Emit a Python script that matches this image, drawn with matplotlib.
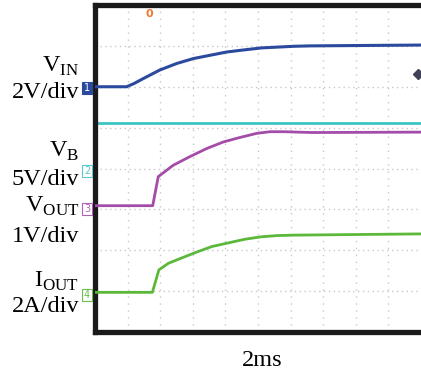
import matplotlib
matplotlib.use("Agg")
import matplotlib.pyplot as plt

# scope traces, x in divisions (2ms/div), y in divisions from bottom
vin_t = [0, 0.97, 1.2, 1.48, 1.99, 2.51, 3.02, 3.53, 4.04, 4.45, 5.1, 6.1, 6.6, 10]
vin_v = [6.0, 6.0, 6.08, 6.20, 6.41, 6.57, 6.69, 6.77, 6.85, 6.89, 6.95, 6.99, 7.0, 7.02]

ref_t = [0, 10]
ref_v = [5.12, 5.12]

vb_t = [0, 1.77, 1.94, 2.40, 2.91, 3.43, 3.94, 4.45, 4.96, 5.37, 5.8, 6.65, 10]
vb_v = [3.09, 3.09, 3.80, 4.08, 4.29, 4.49, 4.65, 4.76, 4.86, 4.90, 4.90, 4.88, 4.89]

iout_t = [0, 1.76, 1.96, 2.25, 2.56, 3.07, 3.58, 4.09, 4.6, 5.11, 5.6, 6.13, 10]
iout_v = [0.97, 0.97, 1.52, 1.68, 1.78, 1.94, 2.09, 2.18, 2.27, 2.33, 2.36, 2.37, 2.40]

labels = [
    (r"V$_{\mathrm{IN}}$", 72),
    ("2V/div", 98),
    (r"V$_{\mathrm{B}}$", 157),
    ("5V/div", 185),
    (r"V$_{\mathrm{OUT}}$", 212),
    ("1V/div", 242),
    (r"I$_{\mathrm{OUT}}$", 287),
    ("2A/div", 312),
]

# channel markers: (text, y pixel, color, filled)
ch_marks = [
    ("1", 88, "#2b4a9e", True),
    ("2", 171, "#5cc8c8", False),
    ("3", 209, "#b060b8", False),
    ("4", 295, "#6cbf4c", False),
]

W, H = 421, 375

plt.rcParams["font.family"] = ["Liberation Serif", "DejaVu Serif"]
plt.rcParams["mathtext.fontset"] = "custom"
plt.rcParams["mathtext.rm"] = "Liberation Serif"

fig = plt.figure(figsize=(W / 100, H / 100), dpi=100)
ax = fig.add_axes([95 / W, 1 - 332 / H, (W - 95) / W, 327 / H])
ax.set_xlim(0, 10)
ax.set_ylim(0, 8)

for i in range(1, 10):
    ax.axvline(i, color="#c8c8c8", linestyle=(0, (1, 4)), linewidth=1.0, zorder=0)
for j in range(1, 8):
    ax.axhline(j, color="#c8c8c8", linestyle=(0, (1, 2.5)), linewidth=1.0, zorder=0)

ax.plot(ref_t, ref_v, color="#3cc4c4", linewidth=2.0, zorder=2)
ax.plot(vin_t, vin_v, color="#2b4a9e", linewidth=2.2, zorder=3)
ax.plot(vb_t, vb_v, color="#a44ca8", linewidth=2.0, zorder=3)
ax.plot(iout_t, iout_v, color="#5cb83a", linewidth=2.0, zorder=3)

# trigger marker and right-side level marker
ax.text(1.67, 7.77, "0", color="#f07830", fontsize=8, fontweight="bold",
        ha="center", va="center", family="DejaVu Sans")
ax.plot([9.92], [6.31], marker="D", markersize=5, color="#404058",
        clip_on=False, zorder=4)

for sp in ["left", "top", "bottom"]:
    ax.spines[sp].set_linewidth(3.8)
    ax.spines[sp].set_color("#1a1a1a")
ax.spines["right"].set_visible(False)
ax.set_xticks([])
ax.set_yticks([])

for txt, y in labels:
    fig.text(79 / W, 1 - y / H, txt, ha="right", va="baseline", fontsize=17.5)

for txt, y, col, filled in ch_marks:
    if filled:
        box = dict(boxstyle="square,pad=0.15", fc=col, ec=col, lw=0.8)
        tc = "white"
    else:
        box = dict(boxstyle="square,pad=0.15", fc="white", ec=col, lw=0.8)
        tc = col
    fig.text(87 / W, 1 - y / H, txt, ha="center", va="center", fontsize=7,
             color=tc, bbox=box, family="DejaVu Sans")

fig.text(262 / W, 1 - 366 / H, "2ms", ha="center", va="baseline", fontsize=17.5)

fig.savefig("out.png", dpi=100)
